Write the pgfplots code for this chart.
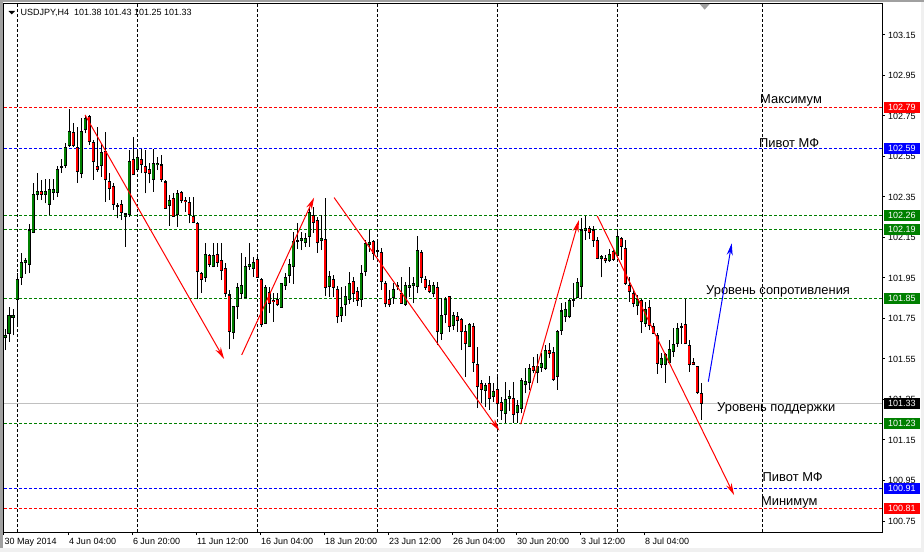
\documentclass[border=0pt]{standalone}
\usepackage{fontspec}
\setmainfont{Liberation Sans}
\usepackage{pgfplots}
\usepackage{pgfplotstable}
\pgfplotsset{compat=1.18}
\usetikzlibrary{arrows.meta}

\definecolor{mtgreen}{RGB}{0,128,0}
\definecolor{mtred}{RGB}{255,0,0}
\definecolor{mtblue}{RGB}{0,0,255}
\definecolor{curgray}{RGB}{192,192,192}
\definecolor{chrome}{RGB}{160,160,160}
\definecolor{chromelight}{RGB}{240,240,240}

% bullish candles: index open high low close
\pgfplotstableread{
i o h l c
1 101.657 101.696 101.594 101.668
2 101.677 101.808 101.636 101.767
3 101.756 101.795 101.668 101.767
4 101.845 101.973 101.718 101.943
5 101.953 102.075 101.915 102.027
6 102.027 102.047 101.970 102.037
7 102.019 102.217 101.973 102.187
8 102.176 102.421 102.171 102.363
9 102.363 102.467 102.335 102.375
11 102.363 102.437 102.319 102.375
12 102.314 102.437 102.261 102.385
13 102.373 102.437 102.335 102.385
14 102.373 102.503 102.352 102.487
15 102.495 102.536 102.470 102.500
16 102.505 102.615 102.492 102.595
17 102.603 102.783 102.599 102.674
20 102.467 102.738 102.442 102.674
21 102.684 102.755 102.664 102.738
25 102.506 102.615 102.450 102.569
29 102.302 102.319 102.245 102.306
31 102.256 102.269 102.105 102.266
32 102.264 102.582 102.253 102.524
34 102.487 102.582 102.483 102.546
38 102.437 102.585 102.376 102.516
39 102.508 102.549 102.483 102.516
42 102.306 102.360 102.207 102.335
44 102.264 102.385 102.204 102.368
51 101.953 102.124 101.932 102.067
53 102.006 102.124 102.003 102.062
58 101.680 101.808 101.647 101.807
59 101.808 101.924 101.746 101.904
60 101.874 102.075 101.848 101.915
61 101.854 102.055 101.854 102.009
62 102.009 102.124 101.990 102.019
63 101.998 102.055 101.957 102.027
66 101.726 101.915 101.726 101.904
70 101.805 101.927 101.805 101.924
71 101.914 101.976 101.891 101.953
72 101.962 102.042 101.927 102.019
73 102.009 102.179 101.920 102.129
74 102.129 102.223 102.092 102.134
75 102.134 102.179 102.088 102.146
76 102.124 102.174 102.105 102.146
77 102.154 102.299 102.105 102.273
80 102.134 102.261 102.088 102.146
82 101.910 101.986 101.858 101.957
85 101.764 101.907 101.734 101.805
86 101.817 101.910 101.764 101.858
87 101.845 101.981 101.822 101.924
90 101.845 102.014 101.808 101.973
91 101.981 102.138 101.960 102.118
92 102.116 102.187 102.080 102.126
98 101.853 101.927 101.822 101.894
99 101.907 101.932 101.891 101.915
101 101.817 101.932 101.812 101.915
102 101.904 102.006 101.858 101.915
103 101.915 101.957 101.825 101.924
104 101.910 102.157 101.874 102.088
108 101.874 101.932 101.858 101.915
110 101.677 101.850 101.644 101.767
111 101.772 101.858 101.726 101.845
113 101.715 101.784 101.693 101.767
117 101.614 101.729 101.611 101.718
121 101.394 101.430 101.315 101.417
123 101.364 101.430 101.339 101.389
126 101.282 101.438 101.232 101.348
127 101.356 101.397 101.295 101.367
129 101.285 101.348 101.236 101.318
130 101.307 101.455 101.282 101.446
131 101.422 101.504 101.380 101.438
132 101.433 101.525 101.397 101.504
134 101.483 101.575 101.430 101.512
135 101.509 101.578 101.487 101.529
136 101.504 101.619 101.496 101.594
139 101.463 101.693 101.397 101.685
140 101.693 101.825 101.669 101.787
141 101.762 101.833 101.734 101.795
142 101.759 101.845 101.751 101.838
144 101.855 101.948 101.850 101.927
145 101.910 102.244 101.844 102.187
146 102.187 102.256 102.137 102.195
150 102.047 102.063 101.953 102.055
152 102.035 102.091 102.030 102.068
154 102.063 102.187 102.055 102.157
159 101.812 101.866 101.767 101.844
161 101.726 101.833 101.710 101.795
165 101.525 101.578 101.504 101.553
166 101.525 101.578 101.433 101.570
167 101.532 101.644 101.528 101.598
168 101.586 101.701 101.561 101.624
169 101.627 101.726 101.611 101.701
170 101.706 101.729 101.624 101.710
}\greenT

% bearish candles: index open high low close
\pgfplotstableread{
i o h l c
10 102.375 102.434 102.335 102.363
18 102.668 102.714 102.599 102.603
19 102.595 102.697 102.421 102.477
22 102.747 102.755 102.607 102.623
23 102.618 102.631 102.434 102.524
24 102.500 102.697 102.475 102.487
26 102.574 102.673 102.327 102.434
27 102.426 102.467 102.335 102.393
28 102.404 102.417 102.286 102.314
30 102.314 102.335 102.236 102.273
33 102.536 102.648 102.459 102.459
35 102.536 102.585 102.467 102.508
36 102.500 102.582 102.368 102.470
37 102.487 102.516 102.417 102.464
40 102.508 102.557 102.426 102.437
41 102.424 102.434 102.294 102.294
43 102.342 102.368 102.253 102.256
45 102.371 102.381 102.319 102.332
46 102.335 102.352 102.278 102.327
47 102.324 102.352 102.220 102.264
48 102.256 102.348 102.220 102.225
49 102.217 102.228 101.845 101.981
50 101.973 101.981 101.878 101.943
52 102.059 102.067 102.006 102.017
54 102.067 102.121 102.006 102.027
55 102.036 102.124 101.940 101.986
56 101.998 102.026 101.858 101.874
57 101.866 101.891 101.598 101.685
64 102.039 102.059 101.950 101.953
65 101.943 101.948 101.710 101.718
67 101.878 101.907 101.779 101.825
68 101.840 101.874 101.734 101.833
69 101.845 101.874 101.812 101.817
78 102.261 102.299 102.174 102.223
79 102.236 102.253 102.075 102.124
81 102.138 102.343 101.861 101.904
83 101.943 101.965 101.858 101.904
84 101.894 101.910 101.726 101.759
88 101.935 101.957 101.833 101.871
89 101.882 101.907 101.812 101.838
93 102.129 102.138 102.039 102.072
94 102.085 102.138 102.055 102.080
95 102.075 102.096 101.891 101.932
96 101.924 101.937 101.805 101.822
97 101.845 101.891 101.808 101.817
100 101.874 101.957 101.822 101.825
105 102.077 102.088 101.927 101.953
106 101.943 101.960 101.891 101.904
107 101.915 101.940 101.874 101.882
109 101.904 101.932 101.619 101.685
112 101.858 101.858 101.685 101.710
114 101.759 101.784 101.685 101.739
115 101.743 101.751 101.594 101.685
116 101.685 101.718 101.463 101.627
118 101.710 101.726 101.487 101.532
119 101.525 101.611 101.307 101.413
120 101.427 101.446 101.331 101.400
122 101.427 101.466 101.298 101.356
124 101.397 101.463 101.273 101.328
125 101.336 101.364 101.249 101.295
128 101.356 101.438 101.236 101.278
133 101.515 101.561 101.479 101.492
137 101.591 101.627 101.553 101.578
138 101.581 101.611 101.443 101.450
143 101.845 101.924 101.808 101.841
147 102.195 102.207 102.141 102.174
148 102.187 102.207 102.105 102.134
149 102.137 102.154 102.042 102.047
151 102.047 102.063 102.022 102.035
153 102.080 102.088 102.035 102.042
155 102.146 102.151 102.039 102.105
156 102.096 102.137 101.915 101.924
157 101.915 101.956 101.833 101.882
158 101.874 101.891 101.805 101.825
160 101.841 101.844 101.680 101.734
162 101.805 101.841 101.693 101.713
163 101.710 101.726 101.677 101.677
164 101.668 101.677 101.476 101.528
171 101.718 101.844 101.624 101.627
172 101.619 101.644 101.487 101.525
173 101.533 101.553 101.520 101.525
174 101.515 101.515 101.377 101.384
175 101.380 101.430 101.250 101.330
}\redT

\pgfplotsset{
  wick/.style={forget plot, draw=none, mark=none, error bars/.cd, y dir=plus, y explicit, error mark=none, error bar style={draw=black, line width=1pt}},
  bodyout/.style={forget plot, draw=none, mark=none, error bars/.cd, y dir=plus, y explicit, error mark=none, error bar style={draw=black, line width=3.6pt}},
  bodyin/.style={forget plot, draw=none, mark=none, error bars/.cd, y dir=plus, y explicit, error mark=none, error bar style={draw=#1, line width=1.9pt}},
}

\newcommand{\tickfont}{\fontsize{9}{10}\selectfont}
\newcommand{\notefont}{\fontsize{12.9}{14}\selectfont}

\begin{document}
\begin{tikzpicture}
\fill[white] (0,0) rectangle (924pt,552pt);
\useasboundingbox (0,0) rectangle (924pt,552pt);
% window chrome
\fill[chrome] (0,549.5pt) rectangle (924pt,552pt);
\fill[chrome] (0,0) rectangle (2.5pt,552pt);
\fill[chromelight] (0,0) rectangle (924pt,4pt);
\fill[chromelight] (921pt,0) rectangle (924pt,549.5pt);

\begin{axis}[
  at={(4pt,20pt)}, anchor=south west,
  scale only axis, width=878pt, height=528pt,
  xmin=0.675, xmax=220.175, ymin=100.6957, ymax=103.303,
  axis line style={black, line width=1pt},
  tick align=outside, major tick length=3pt,
  tick style={black, line width=1pt},
  xtick pos=bottom, ytick pos=right, yticklabel pos=right,
  xtick={0.675,16.75,32.75,48.75,64.75,80.75,96.75,112.75,128.75,144.75,160.75},
  xticklabels={30 May 2014,4 Jun 04:00,6 Jun 20:00,11 Jun 12:00,16 Jun 04:00,18 Jun 20:00,23 Jun 12:00,26 Jun 04:00,30 Jun 20:00,3 Jul 12:00,8 Jul 04:00},
  xticklabel style={anchor=north west, inner sep=0pt, font=\tickfont, xshift=0.5pt, yshift=-3pt},
  ytick={100.75,100.95,101.15,101.35,101.55,101.75,101.95,102.15,102.35,102.55,102.75,102.95,103.15},
  yticklabels={100.75,100.95,101.15,101.35,101.55,101.75,101.95,102.15,102.35,102.55,102.75,102.95,103.15},
  yticklabel style={anchor=west, inner sep=0pt, font=\tickfont, xshift=3pt},
  extra x ticks={3.925,33.925,63.925,93.925,123.925,153.925,190.175},
  extra x tick labels={},
  extra x tick style={grid=major, major tick length=0pt, major grid style={black, line width=1pt, dash pattern=on 3pt off 2pt}},
  clip=true,
]
% price levels
\addplot[forget plot, mtred, line width=1pt, dash pattern=on 3pt off 2pt] coordinates {(0.675,102.79) (220.175,102.79)};
\addplot[forget plot, mtblue, line width=1pt, dash pattern=on 3pt off 2pt] coordinates {(0.675,102.59) (220.175,102.59)};
\addplot[forget plot, mtgreen, line width=1pt, dash pattern=on 3pt off 2pt] coordinates {(0.675,102.26) (220.175,102.26)};
\addplot[forget plot, mtgreen, line width=1pt, dash pattern=on 3pt off 2pt] coordinates {(0.675,102.19) (220.175,102.19)};
\addplot[forget plot, mtgreen, line width=1pt, dash pattern=on 3pt off 2pt] coordinates {(0.675,101.85) (220.175,101.85)};
\addplot[forget plot, curgray, line width=1pt] coordinates {(0.675,101.33) (220.175,101.33)};
\addplot[forget plot, mtgreen, line width=1pt, dash pattern=on 3pt off 2pt] coordinates {(0.675,101.23) (220.175,101.23)};
\addplot[forget plot, mtblue, line width=1pt, dash pattern=on 3pt off 2pt] coordinates {(0.675,100.91) (220.175,100.91)};
\addplot[forget plot, mtred, line width=1pt, dash pattern=on 3pt off 2pt] coordinates {(0.675,100.81) (220.175,100.81)};

% candles: wicks
\addplot[wick] table[x=i, y expr=\thisrow{l}, y error expr={\thisrow{h}-\thisrow{l}}] {\greenT};
\addplot[wick] table[x=i, y expr=\thisrow{l}, y error expr={\thisrow{h}-\thisrow{l}}] {\redT};
% bodies: outline
\addplot[bodyout] table[x=i, y expr={\thisrow{o}-0.0025}, y error expr={\thisrow{c}-\thisrow{o}+0.005}] {\greenT};
\addplot[bodyout] table[x=i, y expr={\thisrow{c}-0.0025}, y error expr={\thisrow{o}-\thisrow{c}+0.005}] {\redT};
% bodies: fill
\addplot[bodyin=mtgreen] table[x=i, y expr={\thisrow{o}+0.0025}, y error expr={max(\thisrow{c}-\thisrow{o}-0.005,0)}] {\greenT};
\addplot[bodyin=mtred] table[x=i, y expr={\thisrow{c}+0.0025}, y error expr={max(\thisrow{o}-\thisrow{c}-0.005,0)}] {\redT};

% trend arrows
\draw[mtred, line width=1pt, -{Stealth[length=12pt,width=6pt]}] (axis cs:20.95,102.755) -- (axis cs:55.7,101.55);
\draw[mtred, line width=1pt, -{Stealth[length=12pt,width=6pt]}] (axis cs:60.1,101.57) -- (axis cs:78.2,102.347);
\draw[mtred, line width=1pt, -{Stealth[length=12pt,width=6pt]}] (axis cs:83.2,102.347) -- (axis cs:124.5,101.196);
\draw[mtred, line width=1pt, -{Stealth[length=12pt,width=6pt]}] (axis cs:129.85,101.228) -- (axis cs:144.4,102.236);
\draw[mtred, line width=1pt, -{Stealth[length=12pt,width=6pt]}] (axis cs:149,102.256) -- (axis cs:183.2,100.878);

% level notes
\node[anchor=west, inner sep=0pt, font=\notefont] at (axis cs:189.675,102.829) {Максимум};
\node[anchor=west, inner sep=0pt, font=\notefont] at (axis cs:189.4,102.617) {Пивот МФ};
\node[anchor=west, inner sep=0pt, font=\notefont] at (axis cs:176.175,101.886) {Уровень сопротивления};
\node[anchor=west, inner sep=0pt, font=\notefont] at (axis cs:178.925,101.308) {Уровень поддержки};
\node[anchor=west, inner sep=0pt, font=\notefont] at (axis cs:190.3,100.967) {Пивот МФ};
\node[anchor=west, inner sep=0pt, font=\notefont] at (axis cs:189.9,100.844) {Минимум};

\draw[mtblue, line width=1pt, -{Stealth[length=12pt,width=6pt]}] (axis cs:176.75,101.438) -- (axis cs:182.6,102.121);

% shift marker
\fill[chrome] (axis cs:174.6,103.303) -- (axis cs:177.1,103.303) -- (axis cs:175.85,103.275) -- cycle;

\coordinate (b1) at (axis cs:220.175,102.79);
\coordinate (b2) at (axis cs:220.175,102.59);
\coordinate (b3) at (axis cs:220.175,102.26);
\coordinate (b4) at (axis cs:220.175,102.19);
\coordinate (b5) at (axis cs:220.175,101.85);
\coordinate (b6) at (axis cs:220.175,101.33);
\coordinate (b7) at (axis cs:220.175,101.23);
\coordinate (b8) at (axis cs:220.175,100.91);
\coordinate (b9) at (axis cs:220.175,100.81);
\end{axis}

% price tags on the scale
\tikzset{tag/.style={anchor=west, xshift=2pt, fill=#1, text=white, font=\tickfont, inner xsep=4pt, inner ysep=0pt, minimum height=11pt}}
\node[tag=mtred] at (b1) {102.79};
\node[tag=mtblue] at (b2) {102.59};
\node[tag=mtgreen] at (b3) {102.26};
\node[tag=mtgreen] at (b4) {102.19};
\node[tag=mtgreen] at (b5) {101.85};
\node[tag=black] at (b6) {101.33};
\node[tag=mtgreen] at (b7) {101.23};
\node[tag=mtblue] at (b8) {100.91};
\node[tag=mtred] at (b9) {100.81};

% title
\fill[black] (8.5pt,541pt) -- (15pt,541pt) -- (11.75pt,537.5pt) -- cycle;
\node[anchor=west, inner sep=0pt, font=\tickfont] at (20.5pt,539pt) {USDJPY,H4\ \ 101.38 101.43 101.25 101.33};
\end{tikzpicture}
\end{document}
